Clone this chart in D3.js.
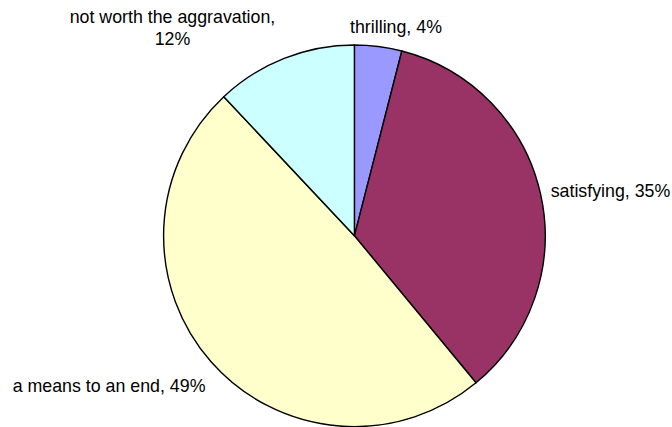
<!DOCTYPE html>
<html>
<head>
<meta charset="utf-8">
<script src="https://cdn.jsdelivr.net/npm/d3@7"></script>
<style>
  html, body { margin: 0; padding: 0; background: #ffffff; }
  svg { display: block; }
</style>
</head>
<body>
<div id="chart"></div>
<script>
// Survey answers, clockwise from 12 o'clock
const categories = ["thrilling", "satisfying", "a means to an end", "not worth the aggravation"];
const percents = [4, 35, 49, 12];
const sliceColors = ["#9999FF", "#993366", "#FFFFCC", "#CCFFFF"];

const width = 672, height = 427;
const cx = 354.4, cy = 235.8, radius = 190.8;

// Label placement: [x, y of first baseline, anchor, lines]
const labelLayout = [
  { x: 396, y: 33.3, anchor: "middle", lines: (c, p) => [`${c}, ${p}%`] },
  { x: 550.7, y: 196.7, anchor: "start", lines: (c, p) => [`${c}, ${p}%`] },
  { x: 12.7, y: 391.7, anchor: "start", lines: (c, p) => [`${c}, ${p}%`] },
  { x: 172.5, y: 23.3, anchor: "middle", lines: (c, p) => [`${c},`, `${p}%`] }
];

const svg = d3.select("#chart").append("svg")
  .attr("width", width)
  .attr("height", height);

const pie = d3.pie().sort(null).value(d => d.value);
const arc = d3.arc().innerRadius(0).outerRadius(radius);

const data = categories.map((c, i) => ({ category: c, value: percents[i], color: sliceColors[i] }));

const g = svg.append("g").attr("transform", `translate(${cx},${cy})`);

g.selectAll("path.slice")
  .data(pie(data))
  .join("path")
  .attr("class", "slice")
  .attr("d", arc)
  .attr("fill", d => d.data.color)
  .attr("stroke", "#000")
  .attr("stroke-width", 1.4)
  .attr("stroke-linejoin", "round");

const labels = svg.selectAll("text.label")
  .data(data)
  .join("text")
  .attr("class", "label")
  .attr("font-family", "'Liberation Sans', Arial, sans-serif")
  .attr("font-size", 17.8)
  .attr("fill", "#000")
  .attr("text-anchor", (d, i) => labelLayout[i].anchor);

labels.each(function (d, i) {
  const L = labelLayout[i];
  d3.select(this).selectAll("tspan")
    .data(L.lines(d.category, d.value))
    .join("tspan")
    .attr("x", L.x)
    .attr("y", (t, j) => L.y + j * 21.7)
    .text(t => t);
});
</script>
</body>
</html>
